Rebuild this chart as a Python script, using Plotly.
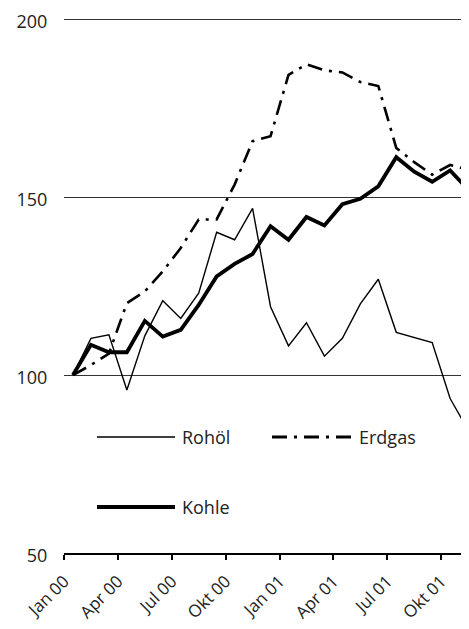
import plotly.graph_objects as go

months = ["Jan 00","Feb 00","Mrz 00","Apr 00","Mai 00","Jun 00","Jul 00","Aug 00","Sep 00","Okt 00","Nov 00","Dez 00",
          "Jan 01","Feb 01","Mrz 01","Apr 01","Mai 01","Jun 01","Jul 01","Aug 01","Sep 01","Okt 01","Nov 01"]
rohoel = [100, 110.3, 111.3, 95.8, 111.0, 120.9, 115.9, 123.0, 140.1, 138.0, 146.8, 119.2,
          108.2, 114.7, 105.3, 110.3, 120.0, 126.9, 112.0, 110.5, 109.1, 93.4, 84.5]
erdgas = [100, 102.8, 106.0, 120.2, 123.5, 129.1, 135.7, 143.7, 143.7, 153.5, 165.7, 167.1,
          184.3, 187.3, 185.6, 185.0, 182.3, 181.2, 163.8, 159.8, 156.3, 159.0, 157.7]
kohle = [100, 108.5, 106.4, 106.4, 115.2, 110.8, 112.7, 119.7, 127.7, 131.2, 134.0, 141.8,
         138.0, 144.4, 142.0, 148.0, 149.5, 153.0, 161.2, 157.1, 154.3, 157.5, 152.1]
tick_labels = ["Jan 00","Apr 00","Jul 00","Okt 00","Jan 01","Apr 01","Jul 01","Okt 01"]
y_ticks = [50, 100, 150, 200]

FONT = "Open Sans"
OFF = 8  # page body margin
W, H = 469 - OFF, 629 - OFF
ML, MR, MT, MB = 64 - OFF, 0, 18 - OFF, 629 - 553

x = list(range(len(months)))
tick_pos = [months.index(t) - 0.5 for t in tick_labels]

fig = go.Figure()
fig.add_trace(go.Scatter(x=x, y=rohoel, mode="lines", name="Rohöl",
                         line=dict(color="black", width=1.4)))
fig.add_trace(go.Scatter(x=x, y=erdgas, mode="lines", name="Erdgas",
                         line=dict(color="black", width=2.6, dash="15px,7px,3px,7px")))
fig.add_trace(go.Scatter(x=x, y=kohle, mode="lines", name="Kohle",
                         line=dict(color="black", width=3.8)))

# manual legend (paper coordinates from page pixel positions)
pw = W - ML - MR
ph = H - MT - MB
def px(v): return (v - OFF - ML) / pw
def py(v): return (H - MB - (v - OFF)) / ph

legend = [("Rohöl", 97, 175, 437, dict(color="black", width=1.4)),
          ("Erdgas", 272, 352, 437, dict(color="black", width=3, dash="15px,7px,3px,7px")),
          ("Kohle", 97, 175, 507, dict(color="black", width=3.8))]
for name, x0, x1, yy, ln in legend:
    fig.add_shape(type="line", xref="paper", yref="paper", x0=px(x0), x1=px(x1),
                  y0=py(yy), y1=py(yy), line=ln)
    fig.add_annotation(xref="paper", yref="paper", x=px(x1 + 5), y=py(yy), text=name,
                       showarrow=False, xanchor="left", yanchor="middle",
                       font=dict(family=FONT, size=18, color="#222"))

fig.update_layout(
    width=W, height=H, margin=dict(l=ML, r=MR, t=MT, b=MB, autoexpand=False),
    paper_bgcolor="white", plot_bgcolor="white", showlegend=False,
    font=dict(family=FONT, size=17, color="#222"),
)
fig.update_xaxes(range=[-0.5, len(months) - 1 + 0.05], tickvals=tick_pos, ticktext=tick_labels,
                 tickangle=-45, ticks="outside", ticklen=5, tickwidth=1.5, tickcolor="black",
                 showline=True, linecolor="black", linewidth=1.5, showgrid=False, zeroline=False,
                 automargin=False, ticklabelstandoff=5, ticklabeloverflow="allow",
                 tickfont=dict(family=FONT, size=17, color="#222"))
fig.update_yaxes(range=[50, 200.3], tickvals=y_ticks, showgrid=True, gridcolor="#333", gridwidth=1,
                 zeroline=False, showline=False, ticks="outside", ticklen=12, tickcolor="rgba(0,0,0,0)",
                 automargin=False, ticklabeloverflow="allow", ticklabelshift=3,
                 tickfont=dict(family=FONT, size=18, color="#222"))

fig.write_html("out.html")
